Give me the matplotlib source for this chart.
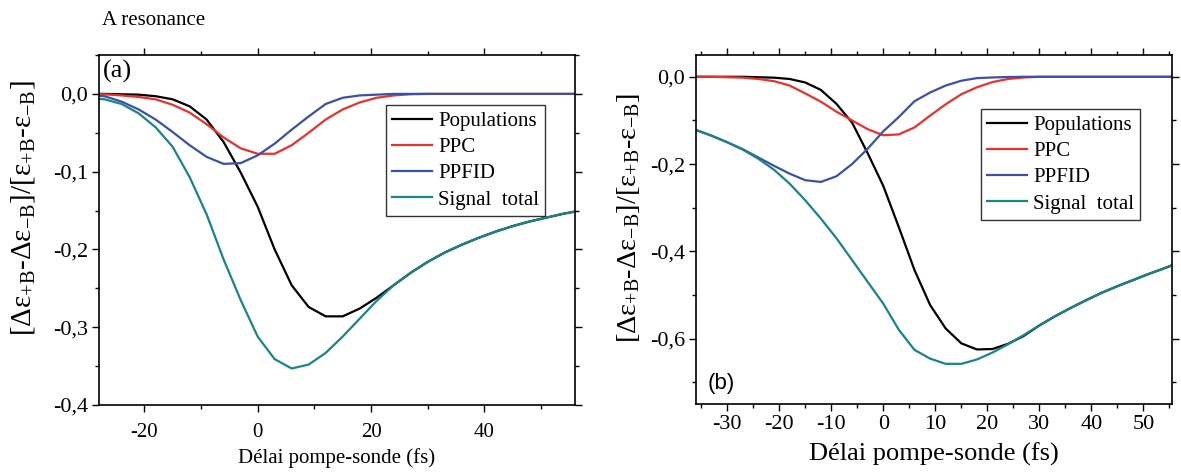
import matplotlib
matplotlib.use('Agg')
import matplotlib.pyplot as plt
from matplotlib.ticker import MultipleLocator, FuncFormatter

plt.rcParams['font.family'] = ['Liberation Serif', 'DejaVu Serif']
plt.rcParams['mathtext.fontset'] = 'custom'
plt.rcParams['mathtext.rm'] = 'Liberation Serif'
plt.rcParams['mathtext.it'] = 'Liberation Serif'
plt.rcParams['mathtext.bf'] = 'Liberation Serif:bold'
plt.rcParams['axes.unicode_minus'] = False

# panel (a) : A resonance
t_a = [-30, -27, -24, -21, -18, -15, -12, -9, -6, -3, 0, 3, 6, 9, 12, 15, 18, 21,
       24, 27, 30, 33, 36, 39, 42, 45, 48, 51, 54, 57]
pop_a = [0, 0, -0.0005, -0.001, -0.003, -0.007, -0.016, -0.033, -0.062, -0.101, -0.145,
         -0.200, -0.246, -0.274, -0.286, -0.286, -0.276, -0.262, -0.246, -0.230, -0.216,
         -0.204, -0.194, -0.185, -0.177, -0.170, -0.164, -0.159, -0.154, -0.150]
ppc_a = [0, -0.0005, -0.002, -0.004, -0.007, -0.014, -0.024, -0.039, -0.056, -0.070, -0.077,
         -0.077, -0.066, -0.050, -0.033, -0.020, -0.011, -0.005, -0.002, -0.0005, 0,
         0, 0, 0, 0, 0, 0, 0, 0, 0]
ppfid_a = [-0.001, -0.003, -0.010, -0.020, -0.033, -0.049, -0.066, -0.081, -0.090, -0.089,
           -0.079, -0.064, -0.046, -0.029, -0.013, -0.005, -0.002, -0.001, 0, 0, 0,
           0, 0, 0, 0, 0, 0, 0, 0, 0]
total_a = [-0.005, -0.007, -0.013, -0.025, -0.043, -0.068, -0.107, -0.155, -0.213, -0.265,
           -0.312, -0.341, -0.353, -0.348, -0.333, -0.312, -0.289, -0.266, -0.246, -0.230,
           -0.216, -0.204, -0.194, -0.185, -0.177, -0.170, -0.164, -0.159, -0.154, -0.150]

# panel (b)
t_b = [-36, -33, -30, -27, -24, -21, -18, -15, -12, -9, -6, -3, 0, 3, 6, 9, 12, 15, 18,
       21, 24, 27, 30, 33, 36, 39, 42, 45, 48, 51, 54, 57]
pop_b = [0, 0, 0, 0, -0.001, -0.002, -0.005, -0.013, -0.030, -0.062, -0.105, -0.175,
         -0.250, -0.345, -0.443, -0.523, -0.577, -0.611, -0.625, -0.624, -0.612, -0.594,
         -0.570, -0.549, -0.530, -0.512, -0.495, -0.480, -0.466, -0.452, -0.439, -0.425]
ppc_b = [0, 0, -0.001, -0.002, -0.005, -0.010, -0.020, -0.038, -0.057, -0.080, -0.100,
         -0.120, -0.134, -0.132, -0.116, -0.089, -0.063, -0.040, -0.024, -0.012, -0.005,
         -0.0015, 0, 0, 0, 0, 0, 0, 0, 0, 0, 0]
ppfid_b = [-0.122, -0.135, -0.150, -0.166, -0.185, -0.204, -0.222, -0.237, -0.241, -0.228,
           -0.200, -0.165, -0.125, -0.092, -0.056, -0.036, -0.020, -0.009, -0.003, -0.0015,
           -0.0005, 0, 0, 0, 0, 0, 0, 0, 0, 0, 0, 0]
total_b = [-0.122, -0.135, -0.150, -0.167, -0.188, -0.213, -0.245, -0.283, -0.325, -0.370,
           -0.420, -0.470, -0.520, -0.580, -0.626, -0.646, -0.658, -0.658, -0.648, -0.632,
           -0.613, -0.592, -0.570, -0.549, -0.530, -0.512, -0.495, -0.480, -0.466, -0.452,
           -0.439, -0.425]

labels = ['Populations', 'PPC', 'PPFID', 'Signal  total']
colors = ['black', '#e8322b', '#3c50a8', '#1a8585']
ylab = (r'$[\Delta\varepsilon_{+\mathrm{B}}$-$\Delta\varepsilon_{-\mathrm{B}}]/'
        r'[\varepsilon_{+\mathrm{B}}$-$\varepsilon_{-\mathrm{B}}]$')
xlab = 'Délai pompe-sonde (fs)'

fig = plt.figure(figsize=(11.81, 4.72), dpi=100)
ax1 = fig.add_axes([0.0838, 0.1419, 0.4031, 0.7416])
ax2 = fig.add_axes([0.5893, 0.1441, 0.4031, 0.7394])


def style(ax, xfs, yfs, xpad):
    for s in ax.spines.values():
        s.set_linewidth(1.2)
    ax.tick_params(which='both', direction='out', top=True, right=True, width=1.0)
    ax.tick_params(axis='x', labelsize=xfs, pad=xpad)
    ax.tick_params(axis='y', labelsize=yfs, pad=3)
    ax.tick_params(which='major', length=5)
    ax.tick_params(which='minor', length=3)


def legend(ax, anchor):
    ax.legend(loc='upper left', bbox_to_anchor=anchor, fontsize=15, frameon=True,
              fancybox=False, edgecolor='#333333', framealpha=1, handlelength=1.9,
              labelspacing=0.32, borderpad=0.3, handletextpad=0.3, borderaxespad=0)


for ax, t, series in [(ax1, t_a, [pop_a, ppc_a, ppfid_a, total_a]),
                      (ax2, t_b, [pop_b, ppc_b, ppfid_b, total_b])]:
    for y, lab, c in zip(series, labels, colors):
        ax.plot(t, y, color=c, lw=1.6, label=lab)

comma = FuncFormatter(lambda v, p: f'{v:.1f}'.replace('.', ','))
whole = FuncFormatter(lambda v, p: f'{v:.0f}')

# panel a
ax1.set_xlim(-28, 56)
ax1.set_ylim(-0.4, 0.05)
ax1.xaxis.set_major_locator(MultipleLocator(20))
ax1.xaxis.set_minor_locator(MultipleLocator(10))
ax1.yaxis.set_major_locator(MultipleLocator(0.1))
ax1.yaxis.set_minor_locator(MultipleLocator(0.05))
style(ax1, 15, 16, 8)
ax1.yaxis.set_major_formatter(comma)
ax1.xaxis.set_major_formatter(whole)
ax1.set_xlabel(xlab, fontsize=15, labelpad=4)
ax1.set_ylabel(ylab, fontsize=21)
ax1.yaxis.set_label_coords(-0.130, 0.561)
ax1.text(0.008, 0.985, '(a)', transform=ax1.transAxes, fontsize=19, va='top')
legend(ax1, (0.603, 0.857))

# panel b
ax2.set_xlim(-36, 55.5)
ax2.set_ylim(-0.75, 0.05)
ax2.xaxis.set_major_locator(MultipleLocator(10))
ax2.xaxis.set_minor_locator(MultipleLocator(5))
ax2.yaxis.set_major_locator(MultipleLocator(0.2))
ax2.yaxis.set_minor_locator(MultipleLocator(0.1))
style(ax2, 16, 16, 3)
ax2.yaxis.set_major_formatter(comma)
ax2.xaxis.set_major_formatter(whole)
ax2.set_xlabel(xlab, fontsize=19, labelpad=6)
ax2.set_ylabel(ylab, fontsize=20.5)
ax2.yaxis.set_label_coords(-0.113, 0.533)
ax2.text(0.025, 0.03, '(b)', transform=ax2.transAxes, fontsize=16,
         family=['Liberation Sans', 'DejaVu Sans'], va='bottom')
legend(ax2, (0.599, 0.845))

fig.text(102 / 1181, 1 - 25 / 472, 'A resonance', fontsize=15, va='baseline')

fig.savefig('out.png', dpi=100)
